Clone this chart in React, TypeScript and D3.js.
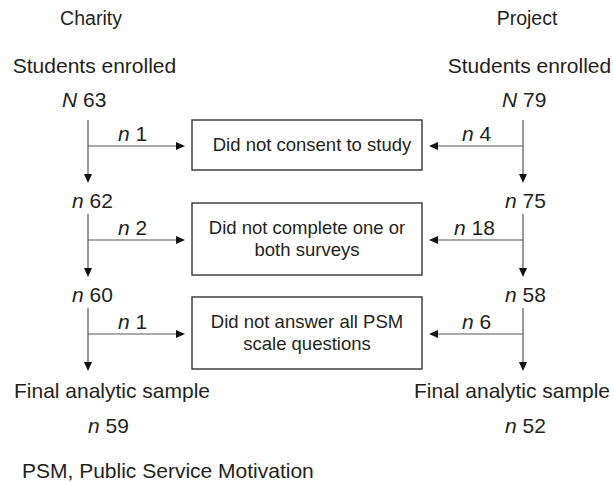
import React from "react";
import * as d3 from "d3";

const groups = ["Charity", "Project"];
const enrolledLabel = "Students enrolled";
const finalLabel = "Final analytic sample";
const charityRemaining = [63, 62, 60, 59];
const projectRemaining = [79, 75, 58, 52];
const charityExcluded = [1, 2, 1];
const projectExcluded = [4, 18, 6];
const reasons = [
  ["Did not consent to study"],
  ["Did not complete one or", "both surveys"],
  ["Did not answer all PSM", "scale questions"],
];
const footnote = "PSM, Public Service Motivation";

const W = 613;
const H = 483;
const FONT = "'Liberation Sans', Arial, Helvetica, sans-serif";
const TXT = "#231f20";
const LINE = "#555";

export default function App() {
  const rowY = d3.scaleLinear().domain([0, reasons.length - 1]).range([146, 334]);
  const sideX = d3.scaleOrdinal<string, number>().domain(groups).range([88, 523]);
  const boxL = 192;
  const boxR = 422;
  const boxH = (lines: number) => (lines === 1 ? 50 : 72);
  const head = 9;
  const hw = 4;

  const sides = [
    { name: groups[0], remaining: charityRemaining, excluded: charityExcluded, dir: 1, labelCenter: 94.5, countX: [62, 72, 72, 88] },
    { name: groups[1], remaining: projectRemaining, excluded: projectExcluded, dir: -1, labelCenter: 529.5, countX: [502, 505, 505, 505] },
  ];

  const nLabel = (letter: string, v: number, x: number, y: number, anchor: string, key: string) => (
    <text key={key} x={x} y={y} fontSize={21} fill={TXT} fontFamily={FONT} textAnchor={anchor}>
      <tspan fontStyle="italic">{letter}</tspan>
      <tspan> {v}</tspan>
    </text>
  );

  return (
    <svg width={W} height={H} style={{ position: "absolute", left: 0, top: 0, background: "#fff" }}>
      {sides.map((s, si) => {
        const x = sideX(s.name);
        const titleX = si === 0 ? 91 : 527;
        return (
          <g key={s.name}>
            <text x={titleX} y={25} fontSize={19.5} fill={TXT} fontFamily={FONT} textAnchor="middle">
              {s.name}
            </text>
            <text x={s.labelCenter} y={73} fontSize={21} fill={TXT} fontFamily={FONT} textAnchor="middle">
              {enrolledLabel}
            </text>
            {nLabel("N", s.remaining[0], s.countX[0], 107, "start", "N0")}
            {s.excluded.map((e, i) => {
              const y = rowY(i);
              const top = i === 0 ? 120 : y - 26;
              const tip = y + 37;
              const hx = s.dir === 1 ? boxL - 7 : boxR + 7;
              return (
                <g key={i}>
                  <line x1={x} x2={x} y1={top} y2={tip - head} stroke={LINE} strokeWidth={1.2} />
                  <path d={`M${x - hw},${tip - head}L${x + hw},${tip - head}L${x},${tip}Z`} fill="#111" />
                  <line x1={x} x2={hx - s.dir * head} y1={y} y2={y} stroke={LINE} strokeWidth={1.2} />
                  <path
                    d={`M${hx - s.dir * head},${y - hw}L${hx - s.dir * head},${y + hw}L${hx},${y}Z`}
                    fill="#111"
                  />
                  {nLabel("n", e, s.dir === 1 ? 118 : (e >= 10 ? 454 : 462), y - 5, "start", "e" + i)}
                  {i + 1 < s.remaining.length - 1 &&
                    nLabel("n", s.remaining[i + 1], s.countX[i + 1], rowY(i + 1) - 32, "start", "r" + i)}
                </g>
              );
            })}
            <text x={si === 0 ? 112 : 512} y={398} fontSize={21} fill={TXT} fontFamily={FONT} textAnchor="middle">
              {finalLabel}
            </text>
            {nLabel("n", s.remaining[3], s.countX[3], 433, "start", "fin")}
          </g>
        );
      })}
      {reasons.map((lines, i) => {
        const y = rowY(i) - 1;
        const h = boxH(lines.length);
        return (
          <g key={i}>
            <rect x={boxL} y={y - h / 2} width={boxR - boxL} height={h} fill="none" stroke="#333" strokeWidth={1.4} />
            {lines.map((t, j) => (
              <text
                key={j}
                x={(boxL + boxR) / 2 + (lines.length === 1 ? 5 : 0)}
                y={y + 6 + (j - (lines.length - 1) / 2) * 22}
                fontSize={18.5}
                fill={TXT}
                fontFamily={FONT}
                textAnchor="middle"
              >
                {t}
              </text>
            ))}
          </g>
        );
      })}
      <text x={22} y={478} fontSize={21} fill={TXT} fontFamily={FONT}>
        {footnote}
      </text>
    </svg>
  );
}
